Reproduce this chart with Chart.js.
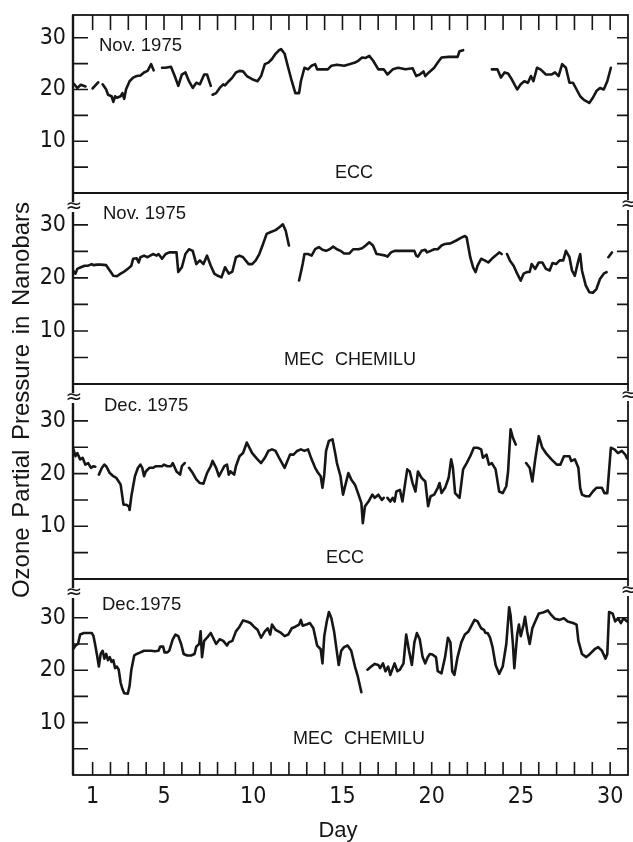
<!DOCTYPE html>
<html>
<head>
<meta charset="utf-8">
<script src="https://cdn.jsdelivr.net/npm/chart.js@4/dist/chart.umd.min.js"></script>
<style>
html,body{margin:0;padding:0;background:#fff;}
#wrap{position:relative;width:633px;height:842px;}
</style>
</head>
<body>
<div id="wrap"><canvas id="c" width="633" height="842"></canvas></div>
<script>
// ---------- data ----------
const dayTickLabels = [1, 5, 10, 15, 20, 25, 30];
const yTickLabels = [10, 20, 30];
const yMarkValues = [5, 10, 15, 20, 25, 30];
const panelMonths = ['Nov. 1975', 'Nov. 1975', 'Dec. 1975', 'Dec.1975'];
const panelInstruments = ['ECC', 'MEC CHEMILU', 'ECC', 'MEC CHEMILU'];
const yTitle = 'Ozone Partial Pressure in Nanobars';
const xTitle = 'Day';

const novEccDay = [-0.05,0.14,0.34,0.6,0.8, 1.0,1.31,1.43,
 1.56,1.76,1.86,2.06,2.16,2.26,2.36,2.57,2.67,2.77,2.87,3.07,3.27,3.47,3.68,3.88,4.08,4.28,4.42,4.65,
 4.89,5.09,5.39,5.6,5.8,6.0,6.2,6.4,6.61,6.81,7.01,7.25,7.41,7.62,7.67,
 7.72,7.92,8.12,8.32,8.42,8.63,8.83,9.03,9.23,9.43,9.64,9.94,10.24,10.44,10.65,10.85,11.05,11.25,11.45,11.56,11.76,11.96,12.16,12.36,12.57,12.67,12.87,13.07,13.27,13.47,13.58,13.88,14.18,14.38,14.69,15.09,15.39,15.7,15.9,16.1,16.3,16.5,16.71,17.01,17.31,17.52,17.82,18.12,18.53,18.93,19.13,19.33,19.54,19.64,19.84,20.14,20.34,20.55,20.95,21.45,21.56,21.76,22.5,
 23.37,23.68,23.88,24.08,24.28,24.48,24.79,24.99,25.19,25.39,25.56,25.7,25.9,26.1,26.4,26.71,26.91,27.11,27.31,27.52,27.72,27.92,28.12,28.32,28.53,28.83,29.03,29.23,29.43,29.64,29.84,30.04];
const novEccO3 = [21.1,20.3,20.9,20.6,null, 20.2,21.4,null,
 21.0,20.0,19.0,18.7,17.6,18.7,18.4,18.7,19.3,18.2,20.0,21.6,22.3,22.6,22.7,23.3,23.6,24.9,23.7,null,
 24.2,24.2,24.4,22.6,20.7,22.9,23.3,21.6,20.3,21.3,21.0,22.9,22.9,20.7,null,
 19.0,19.3,20.3,21.0,20.8,21.6,22.3,23.3,23.6,23.5,22.6,22.0,21.6,22.6,24.9,25.2,25.9,26.9,27.6,27.8,26.9,24.2,21.6,19.3,19.3,21.6,24.2,23.9,24.6,24.9,23.9,23.9,23.9,24.6,24.8,24.6,24.9,25.2,25.6,26.2,26.1,26.5,25.6,23.9,23.9,22.9,23.9,24.2,23.9,24.1,22.6,22.9,23.5,22.6,23.3,24.2,25.2,26.2,26.3,26.3,27.4,27.6,null,
 23.9,23.9,22.3,23.3,23.1,22.0,20.0,21.0,21.6,21.3,22.6,21.6,24.2,23.9,22.9,22.9,23.3,22.6,24.9,24.2,21.3,21.3,20.0,18.7,18.0,17.4,18.4,19.7,20.3,20.0,21.6,24.2];

const novMecDay = [-0.1,0.04,0.14,0.34,0.55,0.75,0.95,1.05,1.25,1.45,1.76,1.96,2.16,2.36,2.57,2.77,2.97,3.17,3.27,3.47,3.58,3.68,3.88,4.08,4.38,4.59,4.69,4.89,5.09,5.29,5.6,5.7,5.8,6.0,6.2,6.4,6.61,6.81,7.01,7.21,7.41,7.62,7.82,8.02,8.22,8.42,8.63,8.83,9.03,9.23,9.43,9.74,9.94,10.14,10.34,10.55,10.75,10.95,11.25,11.45,11.66,11.82,12.0,12.3,
 12.57,12.77,12.87,13.07,13.27,13.47,13.68,13.88,14.08,14.28,14.48,14.69,14.89,15.09,15.39,15.6,15.9,16.1,16.3,16.5,16.71,16.91,17.11,17.41,17.52,17.72,17.92,18.32,18.73,19.03,19.13,19.23,19.43,19.64,19.74,19.94,20.14,20.34,20.55,20.75,21.05,21.35,21.66,21.86,21.96,22.16,22.32,22.46,22.57,22.77,22.97,23.17,23.37,23.58,23.78,23.92,24.07,
 24.22,24.38,24.59,24.79,24.99,25.15,25.35,25.49,25.6,25.8,26.0,26.2,26.4,26.61,26.77,26.97,27.17,27.37,27.52,27.72,27.86,28.02,28.22,28.32,28.42,28.63,28.83,29.03,29.23,29.43,29.64,29.8,29.85,29.9,30.1];
const novMecO3 = [21.4,20.8,21.7,22.0,22.3,22.3,22.6,22.4,22.5,22.5,22.4,21.4,20.4,20.3,20.8,21.2,21.7,22.3,23.6,23.7,22.9,23.9,24.2,23.9,24.5,24.2,24.5,23.6,24.5,24.8,24.8,24.8,21.1,22.0,24.5,25.4,25.1,22.6,23.3,22.6,24.2,22.3,20.8,20.4,20.1,22.0,20.8,21.2,23.9,24.2,23.9,22.6,22.6,23.3,24.5,26.4,28.3,28.6,29.0,29.5,30.1,28.9,26.1,null,
 19.5,22.6,24.5,24.5,24.2,25.4,25.8,25.3,25.1,25.4,25.9,25.4,25.1,24.6,24.6,25.4,25.4,25.6,26.1,26.7,26.1,24.5,24.4,24.2,24.0,24.8,25.1,25.1,25.1,25.1,24.2,24.0,25.1,25.3,24.8,25.1,25.4,25.4,26.1,26.4,26.5,27.0,27.6,27.9,27.6,23.9,22.0,21.1,22.3,23.6,23.3,22.9,23.6,24.2,24.8,24.5,null,
 24.5,23.3,22.3,20.8,19.5,20.8,21.1,21.1,22.6,21.7,22.9,22.9,21.7,21.4,22.8,22.6,23.3,23.3,25.1,23.9,21.4,20.4,23.3,24.5,21.4,18.6,17.3,17.2,17.9,19.8,20.8,21.1,null,23.9,24.8];

const decEccDay = [-0.1,0.04,0.14,0.3,0.44,0.59,0.75,0.91,1.05,1.15,1.25,
 1.35,1.52,1.66,1.76,1.96,2.16,2.32,2.46,2.57,2.73,2.87,3.03,3.07,3.17,3.37,3.54,3.68,3.78,3.88,3.98,4.18,4.38,4.55,4.69,4.89,4.99,5.19,5.39,5.49,5.7,5.9,6.0,6.16,6.28,
 6.4,6.61,6.81,7.01,7.21,7.41,7.62,7.72,7.92,8.08,8.22,8.38,8.53,8.63,8.73,8.93,9.03,9.23,9.43,9.64,9.74,9.94,10.24,10.44,10.65,10.85,11.05,11.25,11.45,11.76,12.06,12.26,12.46,12.67,12.87,13.07,13.27,13.47,13.64,13.78,13.88,13.98,14.08,14.24,14.44,14.59,14.69,14.89,15.03,15.19,15.33,15.49,15.7,15.9,16.06,16.14,16.26,16.46,16.67,16.81,17.01,17.21,17.31,17.42,
 17.52,17.68,17.82,17.92,18.02,18.22,18.36,18.63,18.77,18.93,19.09,19.23,19.43,19.64,19.8,19.94,20.14,20.34,20.44,20.55,20.75,20.95,21.09,21.19,21.31,21.56,21.76,21.96,22.16,22.36,22.57,22.77,22.87,23.07,23.21,23.37,23.58,23.78,23.98,24.18,24.28,24.42,24.55,24.71,25.0,
 25.29,25.49,25.64,25.8,26.0,26.2,26.4,26.71,27.01,27.21,27.41,27.72,27.82,28.02,28.22,28.32,28.42,28.63,28.83,29.03,29.23,29.54,29.68,29.84,30.04,30.24,30.44,30.65,30.85,30.95];
const decEccO3 = [24.9,23.3,23.9,22.7,23.0,21.7,22.0,21.1,21.4,21.3,null,
 19.8,21.1,21.7,21.4,20.1,19.5,19.2,18.5,17.9,14.1,14.1,13.8,13.1,15.7,19.5,21.1,21.7,21.1,19.5,20.4,21.1,21.1,21.4,21.4,21.4,21.7,21.4,21.4,22.0,20.4,19.8,21.4,22.0,null,
 21.1,20.1,18.9,18.2,18.1,20.1,21.4,22.4,21.1,19.5,20.4,21.4,21.7,19.8,20.4,19.8,21.4,23.3,23.9,25.9,25.2,23.9,22.7,22.0,23.0,24.3,24.6,24.3,23.0,21.1,23.6,23.6,24.3,24.6,24.3,24.6,22.7,21.1,20.1,19.5,17.3,19.8,24.3,26.2,26.5,23.9,22.0,19.5,16.0,18.2,20.1,18.9,17.9,16.0,14.4,10.6,13.8,14.7,16.0,15.4,16.0,15.0,15.4,null,
 15.4,14.7,15.4,14.7,16.6,16.9,14.7,20.8,20.4,18.2,16.6,20.4,19.2,18.5,13.8,15.7,16.0,17.3,18.2,16.3,17.3,19.2,22.7,21.1,16.3,15.4,20.8,22.0,23.3,24.9,24.9,24.6,23.0,23.6,21.7,22.0,20.8,16.6,16.3,17.6,20.4,28.4,26.8,25.5,null,
 22.0,21.1,18.5,22.7,27.1,24.9,23.9,22.7,21.7,21.7,23.3,23.3,22.4,22.7,21.1,17.3,16.0,15.7,15.7,16.6,17.3,17.3,16.3,16.3,24.9,24.6,23.9,24.3,23.6,22.9];

const decMecDay = [-0.1,0.04,0.18,0.3,0.51,0.75,0.95,1.05,1.15,1.25,1.35,1.45,1.56,1.66,1.76,1.86,1.96,2.06,2.16,2.26,2.36,2.46,2.57,2.67,2.77,2.97,3.07,3.17,3.33,3.47,3.68,3.88,4.08,4.28,4.48,4.69,4.79,4.95,5.03,5.19,5.29,5.49,5.64,5.8,5.96,6.1,6.3,6.51,6.71,6.81,6.97,7.05,7.13,7.25,7.41,7.62,7.92,8.12,8.32,8.53,8.63,8.83,9.03,9.23,9.43,9.64,9.84,10.04,10.24,10.44,10.65,10.81,10.95,11.05,11.25,11.41,11.56,11.76,11.96,12.16,12.36,12.57,12.67,12.77,12.97,13.17,13.37,13.58,13.78,13.88,13.98,14.12,14.24,14.38,14.53,14.65,14.79,14.93,15.09,15.29,15.49,15.7,15.86,16.06,16.2,
 16.4,16.61,16.81,17.01,17.11,17.27,17.41,17.56,17.68,17.82,17.92,18.08,18.22,18.42,18.57,18.73,18.89,19.03,19.17,19.33,19.49,19.64,19.78,19.9,20.04,20.24,20.34,20.55,20.75,20.91,21.05,21.15,21.27,21.45,21.66,21.86,22.06,22.26,22.4,22.57,22.77,22.93,23.01,23.13,23.27,23.41,23.58,23.78,23.98,24.18,24.34,24.42,24.55,24.63,24.79,24.89,24.99,25.15,25.23,25.35,25.49,25.64,25.8,26.0,26.24,26.51,26.71,26.91,27.17,27.41,27.62,27.92,28.12,28.22,28.42,28.66,28.87,29.13,29.33,29.54,29.74,29.84,29.94,30.14,30.28,30.44,30.6,30.75,30.95];
const decMecO3 = [24.0,24.7,25.0,26.8,27.1,27.1,27.1,26.5,24.7,22.8,20.7,23.1,23.7,22.2,23.1,21.9,22.5,21.6,21.9,20.4,20.7,20.1,17.6,16.4,15.6,15.5,17.0,20.1,22.8,23.1,23.4,23.7,23.7,23.7,23.6,23.7,24.5,24.5,23.4,23.4,23.7,25.9,26.8,26.5,25.0,23.1,22.8,22.8,23.1,24.5,25.0,27.4,22.5,25.6,26.2,27.1,25.0,25.9,25.6,24.7,25.3,25.6,27.4,28.3,29.5,29.3,29.0,28.3,27.7,26.2,27.4,28.0,26.8,28.7,27.7,27.4,27.1,26.5,26.8,28.0,28.3,28.7,29.6,28.5,28.7,29.0,28.0,24.7,24.0,21.3,26.5,29.3,31.1,29.9,27.4,24.4,21.0,23.7,24.4,24.7,23.7,20.7,18.8,15.8,null,
 20.1,20.7,21.2,21.0,20.4,21.3,19.8,20.7,19.1,20.4,21.3,19.8,20.1,21.3,26.8,23.7,21.0,25.3,27.1,25.9,22.5,21.3,22.5,23.1,23.0,22.5,19.8,19.4,22.5,26.2,25.3,19.8,19.1,22.5,25.3,26.8,27.4,28.7,29.6,29.3,28.0,27.7,27.1,27.1,26.2,24.4,21.0,19.3,20.7,25.0,32.0,30.5,25.0,20.4,26.8,28.7,26.5,28.7,30.2,27.4,25.0,28.0,29.3,30.8,31.0,31.4,30.5,29.8,29.6,29.9,29.3,29.0,28.7,25.6,23.1,22.5,23.1,24.0,24.4,23.7,22.2,23.1,31.1,30.8,29.3,29.9,29.0,29.9,29.3];

// ---------- chart ----------
const INK = '#161616';
const NARROW = '"Liberation Sans Narrow", "DejaVu Sans Condensed", "Liberation Sans", Arial, sans-serif';
const SANS = '"Liberation Sans", Arial, sans-serif';
const panelAxes = ['y1', 'y2', 'y3', 'y4'];
const dayMarks = Array.from({length: 30}, (_, i) => i + 1);

function toPoints(days, vals) { return days.map((d, i) => ({x: d, y: vals[i]})); }

const lineStyle = {borderColor: INK, borderWidth: 2.6, pointRadius: 0, tension: 0, spanGaps: false, fill: false, borderJoinStyle: 'round', borderCapStyle: 'round'};

function yAxis(weight, stackWeight, max) {
  return {
    type: 'linear', position: 'left', stack: 'panels', stackWeight: stackWeight, weight: weight,
    min: 0, max: max,
    afterFit(s) { s.width = 73; s.paddingTop = 0; s.paddingBottom = 0; },
    afterBuildTicks(s) { s.ticks = yTickLabels.map(v => ({value: v})); },
    grid: {display: false, drawTicks: false},
    border: {display: false},
    ticks: {color: INK, padding: 7, font: {family: NARROW, size: 23}}
  };
}

const decor = {
  id: 'decor',
  beforeDatasetsDraw(chart) {
    const {ctx, chartArea: ca, scales} = chart;
    const xs = scales.x;
    ctx.save();
    ctx.strokeStyle = INK;
    panelAxes.forEach((id) => {
      const s = scales[id];
      ctx.lineWidth = 1.8;
      ctx.strokeRect(ca.left, s.top, ca.right - ca.left, s.bottom - s.top);
      ctx.lineWidth = 1.6;
      ctx.beginPath();
      yMarkValues.forEach(v => {
        const y = s.getPixelForValue(v);
        ctx.moveTo(ca.left, y); ctx.lineTo(ca.left + 15, y);
        ctx.moveTo(ca.right - 11, y); ctx.lineTo(ca.right, y);
      });
      ctx.stroke();
    });
    ctx.lineWidth = 2.4;
    ctx.beginPath(); ctx.moveTo(ca.left, ca.top); ctx.lineTo(ca.left, ca.bottom); ctx.stroke();
    ctx.lineWidth = 1.6;
    ctx.beginPath();
    dayMarks.forEach(d => {
      const x = xs.getPixelForValue(d);
      ctx.moveTo(x, ca.top); ctx.lineTo(x, ca.top + 15);
      ctx.moveTo(x, ca.bottom); ctx.lineTo(x, ca.bottom - 13);
    });
    ctx.stroke();
    ctx.restore();
  },
  afterDatasetsDraw(chart) {
    const {ctx, chartArea: ca, scales} = chart;
    ctx.save();
    ctx.fillStyle = INK;
    // axis break marks
    ctx.font = '20px "DejaVu Sans", sans-serif';
    ctx.textAlign = 'center'; ctx.textBaseline = 'middle';
    panelAxes.slice(1).forEach(id => {
      const s = scales[id];
      [[ca.left, s.top + 14], [ca.right, s.top + 12]].forEach(([x, y]) => {
        ctx.fillStyle = '#fff'; ctx.fillRect(x - 3, y - 5, 6, 10);
        ctx.fillStyle = INK; ctx.fillText('\u2248', x + 1, y);
      });
    });
    // panel labels
    const monthPos = [[99, 46], [103, 214], [104, 406], [102, 605]];
    const instPos = [[354, 173], [350, 360], [345, 558], [359, 739]];
    ctx.textBaseline = 'middle';
    panelAxes.forEach((id, i) => {
      ctx.font = '18.5px ' + SANS;
      ctx.textAlign = 'left';
      ctx.fillText(panelMonths[i], monthPos[i][0], monthPos[i][1]);
      ctx.font = '18px ' + SANS;
      ctx.textAlign = 'center';
      try { ctx.wordSpacing = '6px'; } catch (e) {}
      ctx.fillText(panelInstruments[i], instPos[i][0], instPos[i][1]);
      try { ctx.wordSpacing = '0px'; } catch (e) {}
    });
    // x title
    ctx.font = '22px ' + SANS;
    ctx.textAlign = 'center';
    ctx.fillText(xTitle, 338, 831);
    // y title
    ctx.translate(22, 400);
    ctx.rotate(-Math.PI / 2);
    ctx.font = '24px ' + SANS;
    try { ctx.wordSpacing = '3px'; } catch (e) {}
    ctx.fillText(yTitle, 0, 0);
    ctx.restore();
  }
};

new Chart(document.getElementById('c'), {
  type: 'line',
  data: {
    datasets: [
      Object.assign({label: 'Nov ECC', data: toPoints(novEccDay, novEccO3), yAxisID: 'y1'}, lineStyle),
      Object.assign({label: 'Nov MEC', data: toPoints(novMecDay, novMecO3), yAxisID: 'y2'}, lineStyle),
      Object.assign({label: 'Dec ECC', data: toPoints(decEccDay, decEccO3), yAxisID: 'y3'}, lineStyle),
      Object.assign({label: 'Dec MEC', data: toPoints(decMecDay, decMecO3), yAxisID: 'y4'}, lineStyle)
    ]
  },
  options: {
    responsive: false,
    animation: false,
    layout: {padding: {left: 0, right: 5, top: 15, bottom: 0}},
    plugins: {legend: {display: false}, tooltip: {enabled: false}, title: {display: false}},
    scales: {
      x: {
        type: 'linear', position: 'bottom', min: -0.1, max: 31,
        afterFit(s) { s.height = 67; s.paddingLeft = 0; s.paddingRight = 0; },
        afterBuildTicks(s) { s.ticks = dayTickLabels.map(v => ({value: v})); },
        grid: {display: false, drawTicks: false},
        border: {display: false},
        ticks: {color: INK, padding: 8, maxRotation: 0, autoSkip: false, font: {family: NARROW, size: 23}}
      },
      y1: yAxis(4, 178, 34.4),
      y2: yAxis(3, 191, 36.0),
      y3: yAxis(2, 195, 37.0),
      y4: yAxis(1, 196, 37.4)
    }
  },
  plugins: [decor]
});
</script>
</body>
</html>
